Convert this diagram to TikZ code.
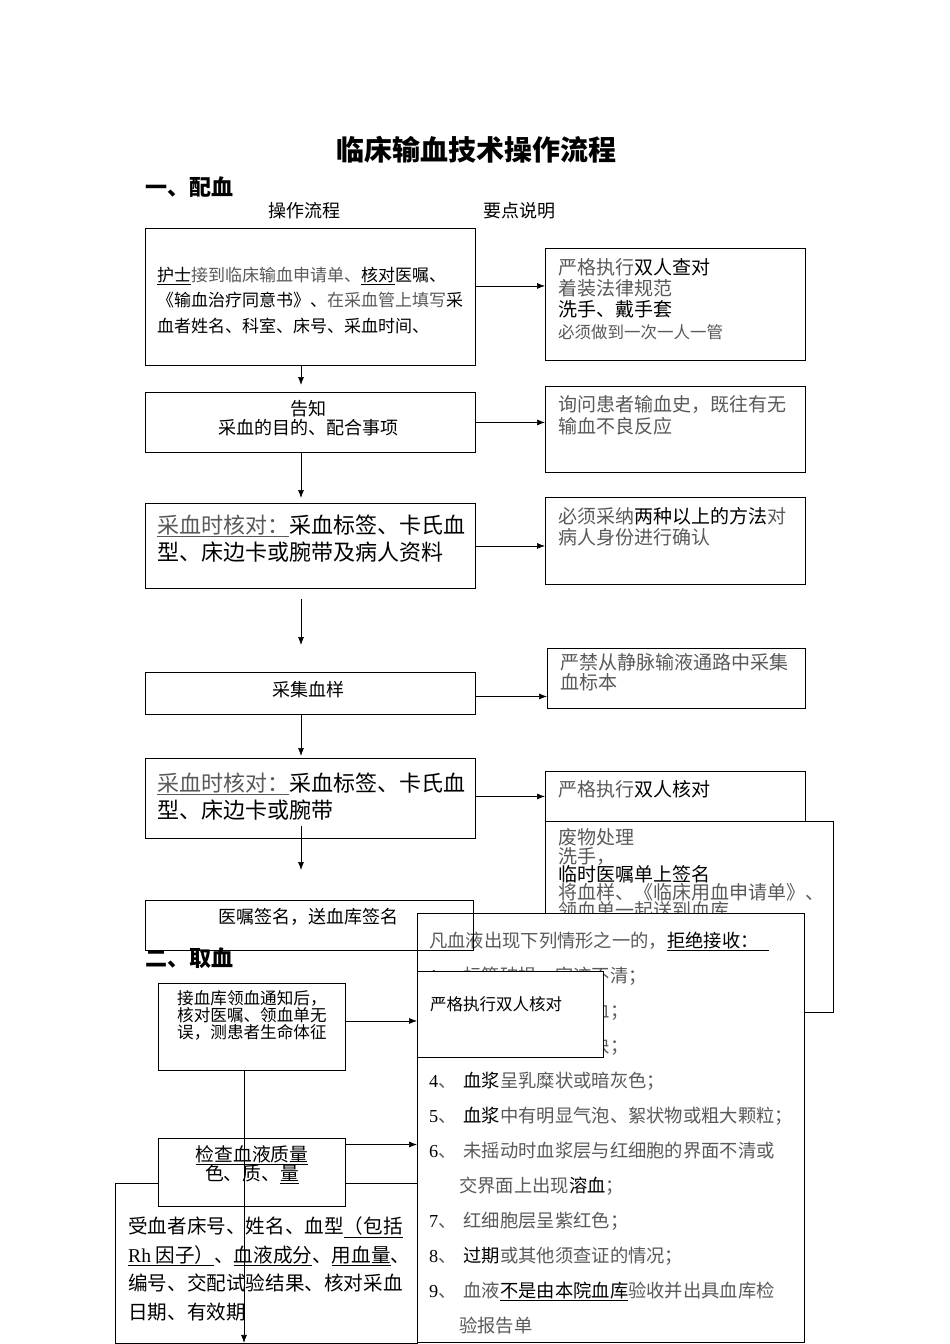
\documentclass[tikz,border=0pt]{standalone}
\usepackage{fontspec}
\newfontfamily\cjk{Noto Sans CJK SC}
\newfontfamily\lat{Liberation Serif}
\usetikzlibrary{arrows.meta}
\colorlet{songgray}{black!65}
\newcommand\sg[1]{\textcolor{songgray}{#1}}
\newcommand\fsz[2]{\fontsize{#1}{#2}\selectfont\lineskiplimit=-30pt}

\tikzset{
  box/.style={draw, line width=0.9pt, fill=white, inner sep=0pt, anchor=north west},
  openbox/.style={draw, line width=0.9pt, inner sep=0pt, anchor=north west},
  txt/.style={inner sep=0pt, align=left, anchor=west},
  ctxt/.style={inner sep=0pt, align=center},
  arr/.style={-{Latex[length=8pt,width=6pt]}, line width=0.7pt},
}

\begin{document}
\begin{tikzpicture}[x=1pt,y=-1pt]
\useasboundingbox (0,0) rectangle (950,1344);
\coordinate (spine) at (301,0);
\coordinate (spineb) at (244,0);

% headings
\node[ctxt, font={\cjk\bfseries\fsz{28}{30}}] (title) at (476,150) {临床输血技术操作流程};
\node[txt, font={\cjk\bfseries\fsz{22}{24}}] (part1) at (145,187) {一、配血};
\node[ctxt, font={\cjk\fsz{18}{20}}] (colA) at (304,211) {操作流程};
\node[ctxt, font={\cjk\fsz{18}{20}}] (colB) at (519,211) {要点说明};

% left column, part one
\node[box, minimum width=330pt, minimum height=137pt] (box1) at (145,228) {};
\node[txt, font={\cjk\fsz{17}{25.5}}] (box1t) at (157,300) {\underline{护士}\sg{接到临床输血申请单、}\underline{核对}医嘱、\\《输血治疗同意书》、\sg{在采血管上填写}采\\血者姓名、科室、床号、采血时间、};

\node[box, minimum width=330pt, minimum height=60pt] (box2) at (145,392) {};
\node[ctxt, font={\cjk\fsz{18}{19}}] (box2t) at (308,418) {告知\\采血的目的、配合事项};

\node[box, minimum width=330pt, minimum height=85pt] (box3) at (145,503) {};
\node[txt, font={\cjk\fsz{22}{27}}] (box3t) at (157,538.5) {\sg{\underline{采血时核对：}}采血标签、卡氏血\\型、床边卡或腕带及病人资料};

\node[box, minimum width=330pt, minimum height=42pt] (box4) at (145,672) {};
\node[ctxt, font={\cjk\fsz{18}{19}}] (box4t) at (308,690) {采集血样};

\node[box, minimum width=330pt, minimum height=80pt] (box5) at (145,758) {};
\node[txt, font={\cjk\fsz{22}{27}}] (box5t) at (157,796.5) {\sg{\underline{采血时核对：}}采血标签、卡氏血\\型、床边卡或腕带};

% right column, notes
\node[box, minimum width=260pt, minimum height=112pt] (note1) at (545,248) {};
\node[txt, font={\cjk\fsz{19}{21.3}}] (note1t) at (558,299) {\sg{严格执行}双人查对\\\sg{着装法律规范}\\洗手、戴手套\\{\fsz{16.5}{21.3}\sg{必须做到一次一人一管}}};

\node[box, minimum width=260pt, minimum height=86pt] (note2) at (545,386) {};
\node[txt, font={\cjk\fsz{19}{22}}] (note2t) at (558,415) {\sg{询问患者输血史，既往有无}\\\sg{输血不良反应}};

\node[box, minimum width=260pt, minimum height=87pt] (note3) at (545,497) {};
\node[txt, font={\cjk\fsz{19}{21}}] (note3t) at (558,526.5) {\sg{必须采纳}两种以上的方法\sg{对}\\\sg{病人身份进行确认}};

\node[box, minimum width=258pt, minimum height=60pt] (note4) at (547,648) {};
\node[txt, font={\cjk\fsz{19}{20}}] (note4t) at (560,672) {\sg{严禁从静脉输液通路中采集}\\\sg{血标本}};

\node[box, minimum width=260pt, minimum height=50pt] (note5) at (545,771) {};
\node[txt, font={\cjk\fsz{19}{20}}] (note5t) at (558,789) {\sg{严格执行}双人核对};

\node[box, minimum width=288pt, minimum height=191pt] (waste) at (545,821) {};
\node[txt, anchor=north west, font={\cjk\fsz{19}{18.3}}] (wastet) at (558,828.5) {\sg{废物处理}\\\sg{洗手，}\\临时医嘱单上签名\\\sg{将血样、《临床用血申请单》、}\\\sg{领血单一起送到血库}};

% arrows, part one
\draw[arr] ([yshift=11]box1.east) -- ([yshift=11]box1.east -| note1.west);
\draw[arr] (box2.east) -- (box2.east -| note2.west);
\draw[arr] (box3.east) -- (box3.east -| note3.west);
\draw[arr] ([yshift=-3]box4.east) -- ([yshift=-3]box4.east -| note4.west);
\draw[arr] ([yshift=2]box5.east) -- ([yshift=2]box5.east -| note5.west);
\draw[arr, shorten >=7pt] (box1.south -| spine) -- (box2.north -| spine);
\draw[arr, shorten >=5pt] (box2.south -| spine) -- (box3.north -| spine);
\draw[arr, shorten <=10pt, shorten >=27pt] (box3.south -| spine) -- (box4.north -| spine);
\draw[arr, shorten >=2pt] (box4.south -| spine) -- (box5.north -| spine);

% reject list
\node[box, minimum width=387pt, minimum height=429pt] (reject) at (417,913) {};
\node[inner sep=0pt, align=left, anchor=north west, font={\cjk\fsz{18.3}{35}}] (rejectt) at (429,931.8) {\sg{凡血液出现下列情形之一的，}\underline{拒绝接收：\hspace{10pt}}\\
{\lat 1}\sg{、}\hspace{7pt}\sg{标签破损、字迹不清；}\\
{\lat 2}\sg{、}\hspace{7pt}\sg{血袋有破损、漏血；}\\
{\lat 3}\sg{、}\hspace{7pt}\sg{血液中有明显凝块；}\\
{\lat 4}\sg{、}\hspace{7pt}血浆\sg{呈乳糜状或暗灰色；}\\
{\lat 5}\sg{、}\hspace{7pt}血浆\sg{中有明显气泡、絮状物或粗大颗粒；}\\
{\lat 6}\sg{、}\hspace{7pt}\sg{未摇动时血浆层与红细胞的界面不清或}\\
\hspace*{30pt}\sg{交界面上出现}溶血\sg{；}\\
{\lat 7}\sg{、}\hspace{7pt}\sg{红细胞层呈紫红色；}\\
{\lat 8}\sg{、}\hspace{7pt}过期\sg{或其他须查证的情况；}\\
{\lat 9}\sg{、}\hspace{7pt}\sg{血液}\underline{不是由本院血库}\sg{验收并出具血库检}\\
\hspace*{30pt}\sg{验报告单}};

\node[openbox, minimum width=328pt, minimum height=50pt] (box6) at (145,900) {};
\node[ctxt, font={\cjk\fsz{18}{19}}] (box6t) at (308,917) {医嘱签名，送血库签名};
\draw[arr] ([yshift=13]box5.south -| spine) -- ([yshift=30]box6.north -| spine);

% part two
\node[txt, font={\cjk\bfseries\fsz{22}{24}}] (part2) at (145,958) {二、取血};

\node[box, minimum width=186pt, minimum height=86pt] (recheck) at (417,971) {};
\node[txt, font={\cjk\fsz{16.5}{18}}] (recheckt) at (430,1004) {严格执行双人核对};

\node[box, minimum width=187pt, minimum height=87pt] (notice) at (158,983) {};
\node[txt, font={\cjk\fsz{16.6}{17}}] (noticet) at (177,1015) {接血库领血通知后，\\核对医嘱、领血单无\\误，测患者生命体征};
\draw[arr] ([yshift=6]notice.east) -- ([yshift=6]notice.east -| reject.west);

\node[box, minimum width=302pt, minimum height=160pt] (checklist) at (115,1183) {};
\node[txt, font={\cjk\fsz{19.6}{28.7}}] (checklistt) at (128,1269) {受血者床号、姓名、血型\underline{（包括}\\\underline{{\lat Rh} 因子）}、\underline{血液成分}、\underline{用血量}、\\编号、交配试验结果、核对采血\\日期、有效期};

\node[box, minimum width=187pt, minimum height=68pt] (quality) at (158,1138) {};
\node[ctxt, font={\cjk\fsz{18.8}{19}}] (qualityt) at (252,1164.5) {\underline{检查血液质量}\\色、质、\underline{量}};
\draw[arr] ([yshift=28]quality.east) -- ([yshift=28]quality.east -| reject.west);

\draw[arr, shorten >=1pt] (notice.south -| spineb) -- (checklist.south -| spineb);

\end{tikzpicture}
\end{document}
